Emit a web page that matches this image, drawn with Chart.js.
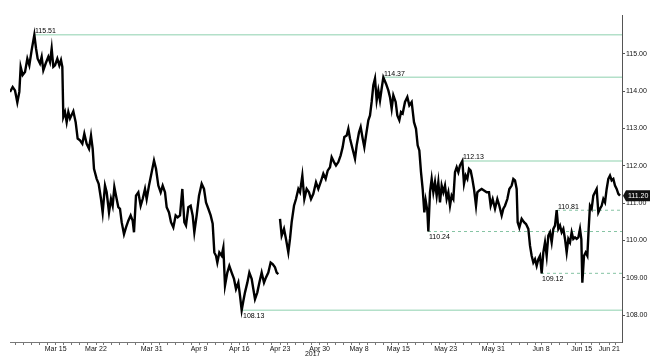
<!DOCTYPE html>
<html><head><meta charset="utf-8">
<script src="https://cdn.jsdelivr.net/npm/chart.js@4.4.1/dist/chart.umd.min.js"></script>
<style>html,body{margin:0;padding:0;background:#fff}#wrap{width:651px;height:358px}</style>
</head><body><div id="wrap"><canvas id="c" width="651" height="358"></canvas></div>
<script>
// trading-hour index of each sample and the price read at it
const hours = [6,14,21,28,34,38,44,51,58,64,71,79,84,89,96,101,106,113,121,126,131,136,141,148,154,159,163,166,171,176,181,186,196,203,209,216,223,229,236,243,249,254,258,266,272,279,284,291,296,303,309,314,319,326,331,336,341,348,354,361,368,374,378,384,391,398,404,411,416,423,431,438,444,451,458,464,471,476,483,489,496,503,509,516,523,529,534,541,548,554,559,566,573,581,588,594,601,608,614,619,624,628,634,641,646,651,658,664,671,678,684,691,696,701,706,711,718,724,731,736,741,748,754,761,768,774,781,788,794,801,806,811,813,816,821,828,834,841,846,851,858,864,871,876,883,889,896,903,909,916,924,931,938,946,953,959,966,971,978,984,991,998,1004,1009,1016,1021,1026,1031,1036,1041,1046,1053,1058,1064,1069,1074,1081,1086,1091,1096,1101,1106,1111,1116,1121,1126,1134,1141,1146,1151,1156,1163,1168,1174,1179,1184,1191,1198,1204,1211,1218,1224,1229,1234,1239,1244,1249,1253,1258,1261,1266,1271,1276,1281,1286,1291,1296,1301,1306,1311,1316,1321,1326,1331,1336,1341,1346,1351,1356,1363,1368,1373,1378,1383,1388,1393,1398,1404,1408,1414,1421,1428,1436,1443,1448,1454,1461,1468,1474,1481,1486,1491,1498,1504,1511,1516,1521,1526,1529,1534,1541,1548,1554,1561,1566,1571,1576,1581,1586,1591,1596,1601,1606,1611,1616,1621,1626,1631,1636,1641,1646,1651,1656,1661,1666,1671,1676,1681,1686,1691,1696,1701,1706,1711,1716,1720,1723,1728,1733,1738,1742,1746,1751,1756,1761,1766,1771,1776,1781,1786,1791,1796,1801,1806,1811,1816,1821,1826,1831,1836];
const prices = [113.98,114.11,114.02,113.70,113.98,114.65,114.43,114.51,114.87,114.69,115.10,115.51,115.15,114.87,114.74,114.92,114.56,114.74,114.92,114.78,115.14,114.65,114.69,114.87,114.69,114.83,114.65,113.31,113.44,113.17,113.44,113.27,113.46,113.17,112.73,112.68,112.59,112.86,112.59,112.46,112.81,112.46,111.92,111.65,111.52,111.11,110.75,111.47,111.29,110.75,111.11,110.93,111.43,111.11,110.89,110.85,110.49,110.17,110.35,110.53,110.67,110.53,110.22,111.20,111.29,110.93,111.11,111.38,111.11,111.47,111.83,112.14,111.92,111.47,111.29,111.47,111.29,110.89,110.75,110.49,110.35,110.67,110.62,110.67,111.38,110.49,110.40,110.89,110.93,110.67,110.22,110.67,111.20,111.52,111.38,111.02,110.85,110.67,110.45,109.68,109.59,109.41,109.68,109.59,109.81,108.79,109.14,109.32,109.14,108.97,108.70,108.87,108.52,108.13,108.38,108.61,108.87,109.14,108.97,108.70,108.43,108.61,108.87,109.14,108.87,109.01,109.14,109.41,109.37,109.28,109.14,109.10,null,110.58,110.13,110.31,110.04,109.68,110.04,110.49,110.93,111.11,111.38,111.29,111.74,111.11,111.38,111.29,111.11,111.25,111.56,111.38,111.56,111.79,111.65,111.87,111.96,112.23,112.10,112.01,112.10,112.28,112.50,112.77,112.81,112.99,112.73,112.55,112.37,112.19,112.55,112.90,113.04,112.73,112.50,112.81,113.22,113.35,113.71,114.16,114.34,113.75,114.02,113.75,114.07,114.37,114.20,114.02,113.84,113.53,113.89,113.71,113.35,113.22,113.44,113.40,113.71,113.84,113.62,113.71,113.17,112.99,112.55,112.41,111.83,111.38,110.75,111.07,110.80,110.24,111.29,111.65,111.29,111.56,111.20,111.56,111.02,111.47,111.29,111.47,111.11,111.29,110.93,111.20,111.11,111.83,111.96,111.83,112.01,112.13,111.52,111.74,111.65,111.92,111.87,111.65,111.38,110.93,111.29,111.34,111.38,111.34,111.29,111.29,110.93,111.11,110.85,111.11,110.93,110.67,110.85,110.93,111.11,111.38,111.47,111.65,111.61,111.38,110.49,110.35,110.58,110.49,110.44,110.31,109.86,109.59,109.41,109.50,109.32,109.50,109.59,109.12,109.68,109.95,109.59,110.13,110.22,109.95,110.31,110.40,110.81,110.31,110.40,110.22,110.31,110.04,109.68,110.04,109.95,110.22,110.04,110.08,110.04,110.08,110.31,110.04,108.87,109.59,109.68,109.59,110.31,110.93,110.85,111.20,111.29,111.38,110.75,110.85,110.93,111.11,111.02,111.38,111.65,111.74,111.61,111.65,111.47,111.38,111.25,111.20];
const tickHours = [143,264,431,573,694,816,935,1053,1171,1313,1456,1599,1721,1804];
const tickLabels = ['Mar 15','Mar 22','Mar 31','Apr 9','Apr 16','Apr 23','Apr 30','May 8','May 15','May 23','May 31','Jun 8','Jun 15','Jun 21'];
const yearLabel = '2017';
const yearHour = 914;
const yTicks = [108,109,110,111,112,113,114,115];
const levelValues = [115.51,114.37,112.13,108.13,110.24,110.81,109.12];
const levelStarts = [78,1125,1362,702,1260,1647,1599];
const levelDashed = [false,false,false,false,true,true,true];
const levelBelow = [false,false,false,true,true,false,true];
const lastPrice = 111.20;
const X_MIN = 6, X_MAX = 1842, Y_MIN = 107.28, Y_MAX = 116.04;

const FONT = 'Liberation Sans';
const pricePoints = hours.map((h,i)=>({x:h,y:prices[i]}));
const levelSets = levelValues.map((v,i)=>({
  data:[{x:levelStarts[i],y:v},{x:X_MAX,y:v}],
  borderColor: levelDashed[i] ? '#86c4a4' : '#b3e0c9',
  borderWidth: levelDashed[i] ? 1 : 1.5,
  borderDash: levelDashed[i] ? [3,3] : [],
  pointRadius:0, fill:false, order:2
}));

// minor (daily) ticks
const minor = [];
for (let h = tickHours[0]; h >= X_MIN; h -= 24) minor.push(h);
for (let h = tickHours[0]; h <= X_MAX; h += 24) minor.push(h);
const allX = Array.from(new Set(minor.filter(m=>tickHours.every(t=>Math.abs(t-m)>8)).concat(tickHours))).sort((a,b)=>a-b);

const annot = {
  id:'annot',
  afterDatasetsDraw(chart){
    const {ctx, scales:{x,y}} = chart;
    ctx.save();
    ctx.font = '7px "'+FONT+'"';
    ctx.fillStyle = '#000';
    ctx.textAlign = 'left';
    levelValues.forEach((v,i)=>{
      const px = x.getPixelForValue(levelStarts[i]);
      const py = y.getPixelForValue(v);
      if (levelBelow[i]) { ctx.textBaseline='top'; ctx.fillText(v.toFixed(2), px+1, py+2); }
      else { ctx.textBaseline='bottom'; ctx.fillText(v.toFixed(2), px+1, py); }
    });
    // year label
    ctx.textAlign='center'; ctx.textBaseline='middle'; ctx.fillStyle='#111';
    ctx.fillText(yearLabel, x.getPixelForValue(yearHour), 354);
    // last price box
    const cy = y.getPixelForValue(lastPrice);
    const left = chart.chartArea.right + 1;
    ctx.fillStyle = '#111';
    ctx.beginPath();
    ctx.moveTo(left, cy);
    ctx.lineTo(left+3, cy-5.5);
    ctx.lineTo(650, cy-5.5);
    ctx.lineTo(650, cy+5.5);
    ctx.lineTo(left+3, cy+5.5);
    ctx.closePath();
    ctx.fill();
    ctx.fillStyle = '#fff';
    ctx.textAlign='left'; ctx.textBaseline='middle';
    ctx.fillText(lastPrice.toFixed(2), left+5, cy+0.5);
    ctx.restore();
  }
};

new Chart(document.getElementById('c'), {
  type:'line',
  data:{datasets:[{
    data: pricePoints, borderColor:'#000', borderWidth:2.4, pointRadius:0,
    fill:false, tension:0, spanGaps:false, order:1
  }].concat(levelSets)},
  options:{
    responsive:false, animation:false, devicePixelRatio:1,
    layout:{padding:{left:10,top:15,right:0,bottom:0}},
    plugins:{legend:{display:false}, tooltip:{enabled:false}},
    scales:{
      x:{
        type:'linear', min:X_MIN, max:X_MAX, position:'bottom',
        afterFit(s){ s.height = 16; },
        afterBuildTicks(s){ s.ticks = allX.map(v=>({value:v})); },
        ticks:{autoSkip:false, maxRotation:0, padding:0, color:'#111',
          font:{family:FONT,size:7},
          callback(v){ const i = tickHours.indexOf(v); return i>=0 ? tickLabels[i] : ''; }},
        grid:{drawOnChartArea:false, tickLength:3, color:'#777'},
        border:{display:true, color:'#777'}
      },
      y:{
        type:'linear', min:Y_MIN, max:Y_MAX, position:'right',
        afterFit(s){ s.width = 29; },
        afterBuildTicks(s){ s.ticks = yTicks.map(v=>({value:v})); },
        ticks:{padding:1, color:'#111', font:{family:FONT,size:7},
          callback(v){ return Number(v).toFixed(2); }},
        grid:{drawOnChartArea:false, tickLength:3, color:'#555'},
        border:{display:true, color:'#555'}
      }
    }
  },
  plugins:[annot]
});
</script></body></html>
